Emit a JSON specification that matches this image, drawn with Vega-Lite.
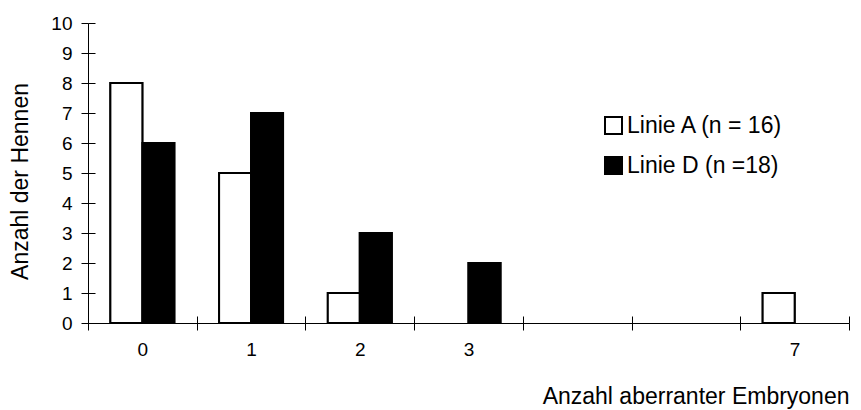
{
  "$schema": "https://vega.github.io/schema/vega-lite/v6.json",
  "width": 761,
  "height": 300,
  "autosize": {"type": "none"},
  "padding": {"left": 88, "top": 23, "right": 12, "bottom": 87},
  "config": {
    "view": {"stroke": null},
    "font": "Liberation Sans",
    "axis": {
      "grid": false,
      "domainColor": "#000000",
      "tickColor": "#000000",
      "labelColor": "#000000",
      "titleColor": "#000000",
      "labelFont": "Liberation Sans",
      "titleFont": "Liberation Sans",
      "labelFontSize": 19,
      "titleFontSize": 23,
      "titleFontWeight": "normal",
      "domainWidth": 1,
      "tickWidth": 1
    },
    "legend": {
      "labelFont": "Liberation Sans",
      "labelFontSize": 23,
      "labelColor": "#000000"
    }
  },
  "data": {
    "values": [
      {"k": "0", "linie": "Linie A (n = 16)", "n": 8},
      {"k": "0", "linie": "Linie D (n =18)", "n": 6},
      {"k": "1", "linie": "Linie A (n = 16)", "n": 5},
      {"k": "1", "linie": "Linie D (n =18)", "n": 7},
      {"k": "2", "linie": "Linie A (n = 16)", "n": 1},
      {"k": "2", "linie": "Linie D (n =18)", "n": 3},
      {"k": "3", "linie": "Linie D (n =18)", "n": 2},
      {"k": "7", "linie": "Linie A (n = 16)", "n": 1}
    ]
  },
  "layer": [
    {
      "mark": {"type": "bar", "stroke": "#000000", "strokeWidth": 2},
      "encoding": {
        "x": {
          "field": "k",
          "type": "nominal",
          "scale": {"domain": ["0", "1", "2", "3", "4", "5", "7"], "paddingInner": 0, "paddingOuter": 0},
          "axis": {
            "orient": "bottom",
            "tickBand": "extent",
            "tickSize": 7,
            "labelAngle": 0,
            "labelPadding": 10,
            "labelExpr": "datum.value == '4' || datum.value == '5' ? '' : datum.value",
            "title": "Anzahl aberranter Embryonen",
            "titleAnchor": "end",
            "titlePadding": 26
          }
        },
        "xOffset": {
          "field": "linie",
          "type": "nominal",
          "scale": {"paddingOuter": 0.7, "paddingInner": 0}
        },
        "y": {
          "field": "n",
          "type": "quantitative",
          "scale": {"domain": [0, 10], "nice": false},
          "axis": {
            "orient": "left",
            "values": [0, 1, 2, 3, 4, 5, 6, 7, 8, 9, 10],
            "tickSize": 7,
            "labelPadding": 9,
            "title": "Anzahl der Hennen",
            "titlePadding": 18,
            "titleY": 158
          }
        },
        "fill": {
          "field": "linie",
          "type": "nominal",
          "scale": {"domain": ["Linie A (n = 16)", "Linie D (n =18)"], "range": ["#ffffff", "#000000"]},
          "legend": {
            "title": null,
            "orient": "none",
            "legendX": 514,
            "legendY": 91,
            "padding": 0,
            "symbolType": "square",
            "symbolSize": 289,
            "symbolStrokeColor": "#000000",
            "symbolStrokeWidth": 2,
            "symbolOpacity": 1,
            "labelOffset": 2,
            "rowPadding": 15
          }
        }
      }
    },
    {
      "mark": {"type": "bar", "stroke": "#000000", "strokeWidth": 2},
      "encoding": {
        "x": {
          "field": "k",
          "type": "nominal",
          "axis": {
            "orient": "bottom",
            "tickBand": "extent",
            "tickSize": -7,
            "domain": false,
            "labels": false,
            "title": null
          }
        },
        "xOffset": {"field": "linie", "type": "nominal"},
        "y": {
          "field": "n",
          "type": "quantitative",
          "axis": {
            "orient": "left",
            "values": [0, 1, 2, 3, 4, 5, 6, 7, 8, 9, 10],
            "tickSize": -7,
            "domain": false,
            "labels": false,
            "title": null
          }
        },
        "fill": {"field": "linie", "type": "nominal"}
      }
    }
  ],
  "resolve": {"axis": {"x": "independent", "y": "independent"}}
}
